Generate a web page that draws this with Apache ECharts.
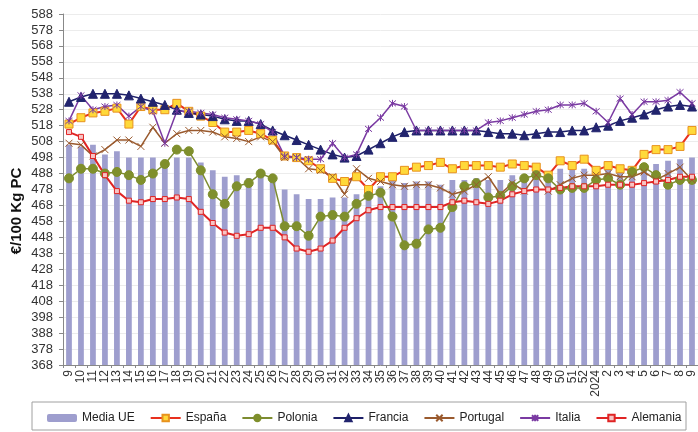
<!DOCTYPE html>
<html>
<head>
<meta charset="utf-8">
<script src="https://cdn.jsdelivr.net/npm/echarts@6/dist/echarts.min.js"></script>
<style>
  html, body { margin: 0; padding: 0; background: #fff; }
  #chart { width: 698px; height: 432px; }
</style>
</head>
<body>
<div id="chart"></div>
<script>
// semanas (9..52 de 2023, luego 2024 y 2..9)
const weeks = ['9','10','11','12','13','14','15','16','17','18','19','20','21','22','23','24','25','26','27','28','29','30',
  '31','32','33','34','35','36','37','38','39','40','41','42','43','44','45','46','47','48','49','50','51','52',
  '2024','2','3','4','5','6','7','8','9'];

const yTicks = [368,378,388,398,408,418,428,438,448,458,468,478,488,498,508,518,528,538,548,558,568,578,588];

const mediaUE = [506,505,506,500,502,498,498,498,496,498,498,495,490,486,487,485,490,487,478,475,472,472,
  473,473,475,477,480,484,482,483,483,481,484,484,485,484,484,487,486,488,487,491,491,491,491,492,491,492,493,494,496,497,498];
const espana = [519,523,526,527,529,519,530,528,528,532,527,524,520,514,514,515,513,509,499,498,496,491,
  485,483,486,478,486,486,490,492,493,495,491,493,493,493,492,494,493,492,487,496,493,497,490,493,491,490,500,503,503,505,515];
const polonia = [485,491,491,488,489,487,484,488,494,503,502,490,475,469,480,482,488,485,455,455,449,461,
  462,461,469,474,476,461,443,444,453,454,467,480,482,473,474,480,485,487,485,478,479,479,484,485,481,489,492,487,481,484,484];
const francia = [533,536,538,538,538,537,535,533,531,528,526,525,524,522,521,521,519,515,512,509,506,503,
  500,498,499,503,507,511,514,515,515,515,515,515,515,514,513,513,512,513,514,514,515,515,517,518,521,523,525,528,530,531,530];
const portugal = [507,506,499,503,509,509,505,517,507,513,515,515,514,511,510,508,511,508,498,498,491,490,
  486,475,491,485,483,481,480,481,481,479,475,477,481,486,475,482,477,487,477,481,485,487,487,488,486,486,489,484,488,492,484];
const italia = [521,537,528,530,531,524,530,527,507,527,527,526,525,523,522,521,519,514,499,498,497,497,
  507,498,500,516,523,532,530,515,515,515,515,515,515,520,521,523,525,527,528,531,531,532,527,520,535,525,533,533,534,539,532];
const alemania = [514,511,499,487,477,471,470,472,472,473,472,464,457,451,449,450,454,454,448,441,439,441,
  446,454,460,465,467,467,467,467,467,467,470,471,470,469,471,475,477,478,478,479,480,480,480,481,481,481,482,483,484,486,486];

const chart = echarts.init(document.getElementById('chart'));

const font = '"Liberation Sans", Arial, sans-serif';
const crossPath = 'path://M0,0L10,10M10,0L0,10';
const starPath = 'path://M0,0L10,10M10,0L0,10M5,-1L5,11';

function lineSeries(name, data, color, symbol, size, fill, border, width) {
  return {
    name: name,
    type: 'line',
    data: data,
    symbol: symbol,
    symbolSize: size,
    showSymbol: true,
    lineStyle: { color: color, width: width },
    itemStyle: { color: fill, borderColor: border, borderWidth: 1 },
    emphasis: { disabled: true },
    animation: false
  };
}

chart.setOption({
  backgroundColor: '#fff',
  animation: false,
  textStyle: { fontFamily: font },
  grid: { left: 63, right: 0, top: 14, bottom: 67 },
  graphic: [
    {
      type: 'text', x: 17, y: 211, rotation: Math.PI / 2,
      style: { text: '€/100 Kg PC', font: 'bold 15px ' + font, fill: '#111', align: 'center', verticalAlign: 'middle' }
    },
    {
      type: 'rect', shape: { x: 32, y: 402, width: 654, height: 28 },
      style: { fill: 'none', stroke: '#a0a0a0', lineWidth: 1 }
    }
  ],
  legend: {
    left: 47, top: 412, padding: 0,
    itemWidth: 30, itemHeight: 8, itemGap: 15,
    textStyle: { fontSize: 12, color: '#222', fontFamily: font },
    data: ['Media UE','España','Polonia','Francia','Portugal','Italia','Alemania']
  },
  xAxis: {
    type: 'category',
    data: weeks,
    axisLine: { lineStyle: { color: '#888' } },
    axisTick: { show: true, length: 3, lineStyle: { color: '#888' } },
    axisLabel: { rotate: 90, interval: 0, fontSize: 12, color: '#333', margin: 5 }
  },
  yAxis: {
    type: 'value',
    min: 368, max: 588,
    axisLine: { show: true, lineStyle: { color: '#888' } },
    axisTick: { show: true, length: 4, customValues: yTicks, lineStyle: { color: '#888' } },
    axisLabel: { customValues: yTicks, fontSize: 13, color: '#333', margin: 10 },
    splitLine: { show: true, lineStyle: { color: '#ececec' } }
  },
  series: [
    {
      name: 'Media UE', type: 'bar', data: mediaUE, barWidth: '48%',
      itemStyle: { color: '#9e9ece' }, emphasis: { disabled: true }
    },
    lineSeries('España', espana, '#e8301e', 'rect', 8, '#ffd93a', '#e8921e', 2),
    lineSeries('Polonia', polonia, '#7d8c30', 'circle', 9, '#7f8f2c', '#7f8f2c', 1.5),
    lineSeries('Francia', francia, '#1e2068', 'triangle', 9, '#22246e', '#22246e', 1.5),
    lineSeries('Portugal', portugal, '#9a5a2e', crossPath, 7, 'none', '#9a5a2e', 1.5),
    lineSeries('Italia', italia, '#7a3aa2', starPath, 7, 'none', '#7a3aa2', 1.5),
    lineSeries('Alemania', alemania, '#e02424', 'rect', 5, '#f6c4c4', '#e02424', 2)
  ]
});
</script>
</body>
</html>
